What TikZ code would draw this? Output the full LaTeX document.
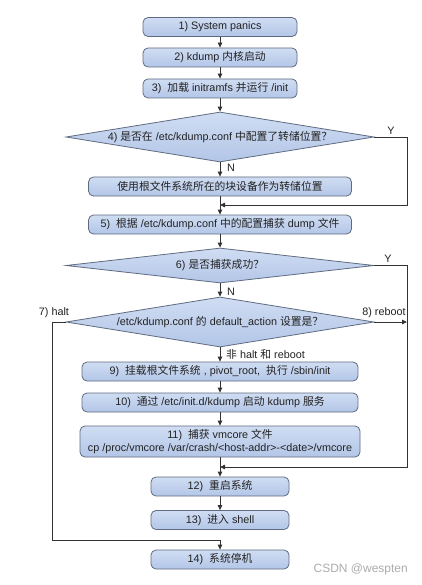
\documentclass[tikz,border=0pt]{standalone}
\usepackage{fontspec}
\setmainfont{Liberation Sans}
\newfontfamily\cjk{Noto Sans CJK SC}
\newcommand\zh[1]{{\cjk #1}}
\usetikzlibrary{arrows.meta,calc,shapes.geometric}
\definecolor{boxtop}{HTML}{D0DDF3}
\definecolor{boxbot}{HTML}{B3C6E7}
\definecolor{boxborder}{HTML}{5F6B80}
\definecolor{linec}{HTML}{333333}
\definecolor{txt}{HTML}{222222}
\tikzset{
  boxnode/.style={draw=boxborder, line width=0.8pt, top color=boxtop, bottom color=boxbot,
    rounded corners=5pt, minimum width=#1, minimum height=19pt, inner sep=1pt,
    align=center, text=txt},
  dianode/.style={diamond, draw=boxborder, line width=0.8pt, top color=boxtop, bottom color=boxbot,
    minimum width=308pt, minimum height=#1, inner sep=0pt, aspect=6, text=txt},
  conn/.style={draw=linec, line width=0.8pt},
  arr/.style={conn, -{Triangle[length=5pt,width=4.5pt]}},
  lbl/.style={text=txt, inner sep=0pt}
}
\begin{document}
\begin{tikzpicture}[x=1pt,y=-1pt, font=\fontsize{10.8}{12.5}\selectfont]
\fill[white] (0,0) rectangle (422,585);
\useasboundingbox (0,0) rectangle (422,585);

\node[boxnode=154pt] (b1) at (220,27) {1) System panics};
\node[boxnode=154pt] (b2) at (220,57.5) {2) kdump \zh{内核启动}};
\node[boxnode=154pt] (b3) at (220,88.5) {3)\ \ \zh{加载} initramfs \zh{并运行} /init};
\node[dianode=50pt] (d4) at (220,137) {4)\ \zh{是否在} /etc/kdump.conf \zh{中配置了转储位置？}};
\node[boxnode=263pt] (b4) at (220,186.5) {\zh{使用根文件系统所在的块设备作为转储位置}};
\node[boxnode=263pt] (b5) at (220,224.5) {5)\ \ \zh{根据} /etc/kdump.conf \zh{中的配置捕获} dump \zh{文件}};
\node[dianode=35pt] (d6) at (220,265.5) {6)\ \zh{是否捕获成功？}};
\node[dianode=50pt] (d7) at (220,322) {/etc/kdump.conf \zh{的} default\_action \zh{设置是？}};
\node[boxnode=276pt] (b9) at (220,371.5) {9)\ \ \zh{挂载根文件系统} , pivot\_root,\ \ \zh{执行} /sbin/init};
\node[boxnode=276pt] (b10) at (220,402.5) {10)\ \ \zh{通过} /etc/init.d/kdump \zh{启动} kdump \zh{服务}};
\node[boxnode=280pt, minimum height=31pt] (b11) at (220,441.5) {11)\ \ \zh{捕获} vmcore \zh{文件}\\cp /proc/vmcore /var/crash/<host-addr>-<date>/vmcore};
\node[boxnode=138pt] (b12) at (220,486.5) {12)\ \ \zh{重启系统}};
\node[boxnode=138pt] (b13) at (220,520) {13)\ \ \zh{进入} shell};
\node[boxnode=138pt] (b14) at (220,559.5) {14)\ \ \zh{系统停机}};

% coordinates
\coordinate (r4) at (407,137);
\coordinate (m1) at (220,205);
\coordinate (r6) at (407,265.5);
\coordinate (m3) at (220,467);
\coordinate (r7) at (407,322);
\coordinate (h1) at (52,540);
\coordinate (h2) at (220,540);

% labels
\node[lbl] (y4) at (391,131) {Y};
\node[lbl] (n4) at (231,168) {N};
\node[lbl] (y6) at (388,259) {Y};
\node[lbl] (n6) at (231,292) {N};
\node[lbl] (l7) at (54,313) {7) halt};
\node[lbl] (l8) at (384,313) {8) reboot};
\node[lbl, anchor=west] (l9) at (226,354) {\zh{非} halt \zh{和} reboot};
\node[text=gray!65, font=\fontsize{12}{14}\selectfont, anchor=east, inner sep=0pt] (wm) at (408,569) {CSDN @wespten};

% connectors
\draw[arr] (b1) -- (b2);
\draw[arr] (b2) -- (b3);
\draw[arr] (b3) -- (d4);
\draw[arr] (d4) -- (b4);
\draw[arr] (b4) -- (b5);
\draw[arr] (d4.east) -- (r4) |- (m1);
\draw[arr] (b5) -- (d6);
\draw[arr] (d6) -- (d7);
\draw[arr] (d6.east) -- (r6) |- (m3);
\draw[arr] (d7.east) -- (r7);
\draw[arr] (d7) -- (b9);
\draw[arr] (b9) -- (b10);
\draw[arr] (b10) -- (b11);
\draw[arr] (b11) -- (b12);
\draw[arr] (b12) -- (b13);
\draw[arr] (d7.west) -| (h1) -- (h2) -- (b14);
\end{tikzpicture}
\end{document}
